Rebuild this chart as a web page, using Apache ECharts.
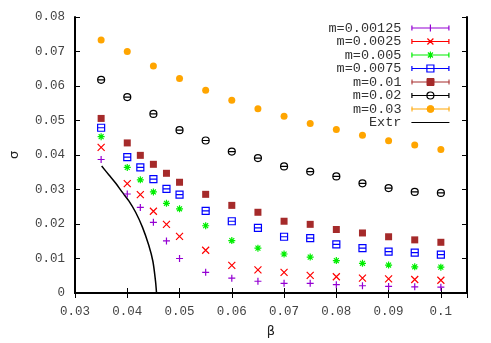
<!DOCTYPE html>
<html>
<head>
<meta charset="utf-8">
<script src="https://cdn.jsdelivr.net/npm/echarts@6/dist/echarts.min.js"></script>
<style>
html,body{margin:0;padding:0;background:#fff;}
#chart{width:491px;height:343px;}
</style>
</head>
<body>
<div id="chart"></div>
<script>
// ---- data ----
var betaFine = [0.035,0.04,0.0425,0.045,0.0475,0.05,0.055,0.06,0.065,0.07,0.075,0.08,0.085,0.09,0.095,0.1];
var betaCoarse = [0.035,0.04,0.045,0.05,0.055,0.06,0.065,0.07,0.075,0.08,0.085,0.09,0.095,0.1];

var m00125 = [0.0387,0.0287,0.0248,0.0205,0.0151,0.0100,0.0060,0.0043,0.0034,0.0028,0.0028,0.0024,0.0021,0.0019,0.0018,0.0017];
var m0025  = [0.0422,0.0317,0.0285,0.0237,0.0199,0.0164,0.0124,0.0080,0.0067,0.0060,0.0051,0.0047,0.0043,0.0041,0.0039,0.0037];
var m005   = [0.0453,0.0364,0.0328,0.0293,0.0260,0.0244,0.0195,0.0152,0.0130,0.0113,0.0104,0.0094,0.0086,0.0081,0.0076,0.0075];
var m0075  = [0.0479,0.0394,0.0364,0.0330,0.0302,0.0285,0.0238,0.0208,0.0189,0.0163,0.0159,0.0141,0.0130,0.0120,0.0117,0.0111];
var m01    = [0.0506,0.0435,0.0399,0.0373,0.0347,0.0321,0.0286,0.0254,0.0234,0.0208,0.0199,0.0184,0.0174,0.0163,0.0154,0.0147];
var m02    = [0.0618,0.0568,0.0519,0.0472,0.0442,0.0410,0.0391,0.0367,0.0352,0.0338,0.0318,0.0304,0.0293,0.0290];
var m03    = [0.0733,0.0700,0.0658,0.0622,0.0588,0.0559,0.0534,0.0512,0.0491,0.0474,0.0457,0.0441,0.0429,0.0416];

var extrBeta  = [0.0351,0.0365,0.0378,0.0390,0.0403,0.0416,0.0429,0.0441,0.0449,0.0454,0.0456];
var extrSigma = [0.0368,0.0342,0.0318,0.0293,0.0267,0.0234,0.0191,0.0139,0.0092,0.0035,0.0];

var seriesNames = ['m=0.00125','m=0.0025','m=0.005','m=0.0075','m=0.01','m=0.02','m=0.03','Extr'];
var xTicks = [0.03,0.04,0.05,0.06,0.07,0.08,0.09,0.1];
var yTicks = [0,0.01,0.02,0.03,0.04,0.05,0.06,0.07,0.08];

// ---- styling ----
var colors = ['#9400d3','#ff0000','#00ee00','#0000ff','#a52a2a','#000000','#ffa500','#000000'];
var mono = 'Liberation Mono';

var markerPaths = [
  'path://M5 0L5 10M0 5L10 5',
  'path://M0 0L10 10M10 0L0 10',
  'path://M5 0L5 10M0 5L10 5M1.5 1.5L8.5 8.5M8.5 1.5L1.5 8.5',
  'path://M0 0L10 0L10 10L0 10ZM0 5L10 5',
  'rect',
  'path://M0 5A5 5 0 1 1 10 5A5 5 0 1 1 0 5ZM0 5L10 5',
  'circle'
];
var filled = [false,false,false,false,true,false,true];

// legend icon markers in pixel coordinates (center 19,3.5 ; size 7)
var legendMarkers = [
  'M19 0L19 7M15.5 3.5L22.5 3.5',
  'M16 0.5L22 6.5M22 0.5L16 6.5',
  'M19 0L19 7M15.5 3.5L22.5 3.5M16.5 1L21.5 6M21.5 1L16.5 6',
  'M15.5 0L22.5 0L22.5 7L15.5 7Z',
  'M15.5 0L22.5 0L22.5 7L15.5 7Z',
  'M15.5 3.5A3.5 3.5 0 1 1 22.5 3.5A3.5 3.5 0 1 1 15.5 3.5Z',
  'M15.5 3.5A3.5 3.5 0 1 1 22.5 3.5A3.5 3.5 0 1 1 15.5 3.5Z'
];
var legendBase = 'M-5 0M38 7M0 3.5L38 3.5M0.5 1L0.5 6M37.5 1L37.5 6';

var mData = [m00125,m0025,m005,m0075,m01,m02,m03];
var series = [];
var legends = [];
for (var i = 0; i < 7; i++) {
  var xs = (i < 5) ? betaFine : betaCoarse;
  var pts = xs.map(function (b, k) { return [b, mData[i][k]]; });
  series.push({
    name: seriesNames[i],
    type: 'scatter',
    symbol: markerPaths[i],
    symbolSize: 7,
    data: pts,
    itemStyle: filled[i]
      ? { color: colors[i], borderColor: colors[i], borderWidth: 0, opacity: 1 }
      : { color: 'transparent', borderColor: colors[i], borderWidth: 1.2, opacity: 1 },
    emphasis: { disabled: true },
    z: 3
  });
}
series.push({
  name: 'Extr',
  type: 'line',
  smooth: 0.3,
  showSymbol: false,
  symbol: 'none',
  data: extrBeta.map(function (b, k) { return [b, extrSigma[k]]; }),
  lineStyle: { color: '#000', width: 1.5 },
  itemStyle: { color: '#000' },
  emphasis: { disabled: true },
  z: 2
});

for (var j = 0; j < 8; j++) {
  var icon, ist;
  if (j < 7) {
    icon = 'path://' + legendBase + legendMarkers[j];
    ist = filled[j]
      ? { color: colors[j], borderColor: colors[j], borderWidth: 1 }
      : { color: 'transparent', borderColor: colors[j], borderWidth: 1.2 };
  } else {
    icon = 'path://M-5 0M38 7M0 3.5L38 3.5';
    ist = { color: 'transparent', borderColor: '#000', borderWidth: 1.2 };
  }
  legends.push({
    show: true,
    orient: 'vertical',
    right: 41,
    top: 21 + 13.5 * j,
    padding: 0,
    align: 'right',
    itemWidth: 43,
    itemHeight: 7,
    selectedMode: false,
    textStyle: { fontFamily: mono, fontSize: 13.5, color: '#333' },
    data: [{ name: seriesNames[j], icon: icon, itemStyle: ist }]
  });
}

function fmtX(v) {
  for (var t = 0; t < xTicks.length; t++) {
    if (Math.abs(v - xTicks[t]) < 1e-9) return String(xTicks[t]);
  }
  return '';
}
function fmtY(v) {
  for (var t = 0; t < yTicks.length; t++) {
    if (Math.abs(v - yTicks[t]) < 1e-9) return String(yTicks[t]);
  }
  return '';
}

var axisLineStyle = { show: true, lineStyle: { color: '#000', width: 2 } };
var tickStyle = { show: true, inside: true, length: 5, lineStyle: { color: '#000', width: 1 } };
var labelStyle = { fontFamily: mono, fontSize: 12.5, color: '#444' };

var chart = echarts.init(document.getElementById('chart'), null, { renderer: 'canvas' });
chart.setOption({
  animation: false,
  backgroundColor: '#fff',
  grid: { left: 74, right: 24, top: 17, bottom: 44, containLabel: false },
  legend: legends,
  xAxis: [
    {
      type: 'value', position: 'bottom', min: 0.03, max: 0.105, interval: 0.01,
      axisLine: axisLineStyle, axisTick: tickStyle, splitLine: { show: false },
      axisLabel: Object.assign({ margin: 12, formatter: fmtX, showMaxLabel: false }, labelStyle),
      name: 'β', nameLocation: 'middle', nameGap: 32,
      nameTextStyle: { fontFamily: 'DejaVu Sans', fontSize: 13, color: '#222' }
    },
    {
      type: 'value', position: 'top', min: 0.03, max: 0.105, interval: 0.01,
      axisLine: axisLineStyle, axisTick: tickStyle, splitLine: { show: false },
      axisLabel: { show: false }
    }
  ],
  yAxis: [
    {
      type: 'value', position: 'left', min: 0, max: 0.08, interval: 0.01,
      axisLine: axisLineStyle, axisTick: tickStyle, splitLine: { show: false },
      axisLabel: Object.assign({ margin: 10, formatter: fmtY }, labelStyle),
      name: 'σ', nameLocation: 'middle', nameGap: 54,
      nameTextStyle: { fontFamily: 'DejaVu Sans', fontSize: 13, color: '#222' }
    },
    {
      type: 'value', position: 'right', min: 0, max: 0.08, interval: 0.01,
      axisLine: axisLineStyle, axisTick: tickStyle, splitLine: { show: false },
      axisLabel: { show: false }
    }
  ],
  series: series
});
</script>
</body>
</html>
